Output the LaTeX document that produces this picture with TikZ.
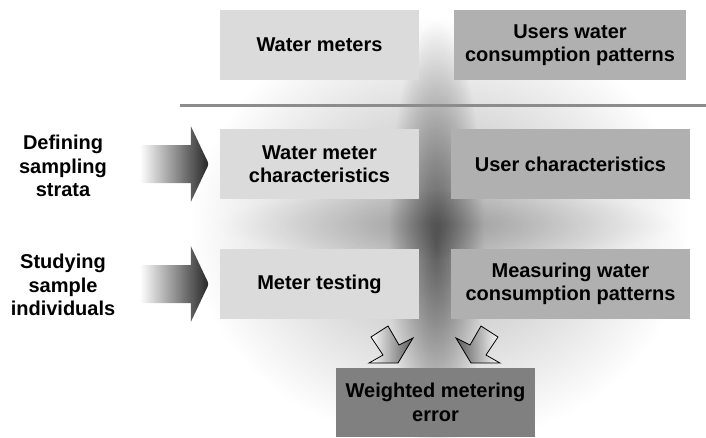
\documentclass[tikz,border=0pt]{standalone}
\usepackage{fontspec}
\setmainfont{Liberation Sans}
\usetikzlibrary{calc}
\definecolor{lightbox}{gray}{0.86}
\definecolor{midbox}{gray}{0.69}
\definecolor{darkbox}{gray}{0.5}
\definecolor{rulegrey}{gray}{0.55}

\begin{document}
\begin{tikzpicture}[x=1pt,y=-1pt]
    \tikzset{%
      box/.style={inner sep=0pt, align=center,
        font=\fontsize{20}{23.5}\selectfont\bfseries},
      lbox/.style={box, fill=lightbox, minimum width=199pt,
        minimum height=70pt},
      rbox/.style={box, fill=midbox, minimum width=239pt,
        minimum height=70pt},
      ebox/.style={box, fill=darkbox, minimum width=199pt,
        minimum height=69pt},
      side/.style={box, text width=130pt},
      bigarrow/.style={left color=white, middle color=gray,
        right color=black!85},
      glow/.style={outer color=white},
    }
    \useasboundingbox (0,0) rectangle (706,437);
    % soft dark cross behind the boxes
    \begin{scope}[blend mode=multiply]
      \shade[glow, inner color=black!30] (440,230) ellipse (250 and 215);
      \shade[glow, inner color=black!50] (436,245) ellipse (48 and 225);
      \shade[glow, inner color=black!15] (446,224) ellipse (230 and 35);
    \end{scope}
    % separator
    \coordinate (L0) at (180,105);
    \coordinate (L1) at (706,105);
    \draw [rulegrey, line width=3pt] (L0) -- (L1);

    \node[lbox] (WM) at (319.5,45) {Water meters};
    \node[rbox, minimum width=232pt] (UP) at (570,45)
      {Users water\\consumption patterns};

    \node[lbox] (WC) at (319.5,164) {Water meter\\characteristics};
    \node[rbox] (UC) at (570.5,164) {User characteristics};

    \node[lbox] (MT) at (319.5,284) {Meter testing};
    \node[rbox] (MC) at (570.5,284) {Measuring water\\consumption patterns};

    \node[ebox] (WE) at (435.5,402.5) {Weighted metering\\error};

    \node[side] (DS) at (63,166) {Defining\\sampling\\strata};
    \node[side] (SI) at (63,285) {Studying\\sample\\individuals};

    % big arrows into the rows
    \shade[bigarrow] ($(WC.west)+(-80,-19)$) -- ($(WC.west)+(-29,-19)$)
      -- ($(WC.west)+(-29,-38)$) -- ($(WC.west)+(-11,0)$)
      -- ($(WC.west)+(-29,38)$) -- ($(WC.west)+(-29,19)$)
      -- ($(WC.west)+(-80,19)$) -- cycle;
    \shade[bigarrow] ($(MT.west)+(-80,-19)$) -- ($(MT.west)+(-29,-19)$)
      -- ($(MT.west)+(-29,-38)$) -- ($(MT.west)+(-11,0)$)
      -- ($(MT.west)+(-29,38)$) -- ($(MT.west)+(-29,19)$)
      -- ($(MT.west)+(-80,19)$) -- cycle;

    % small arrows down to the result
    \draw [line width=0.8pt, left color=white, right color=black!65]
      (371,337) -- (388,326) -- (399,345) -- (413,338) -- (398,363)
      -- (369,363) -- (383,355) -- cycle;
    \draw [line width=0.8pt, left color=black!65, right color=white]
      (498,337) -- (481,326) -- (470,345) -- (456,338) -- (471,363)
      -- (500,363) -- (486,355) -- cycle;
  \end{tikzpicture}
\end{document}
